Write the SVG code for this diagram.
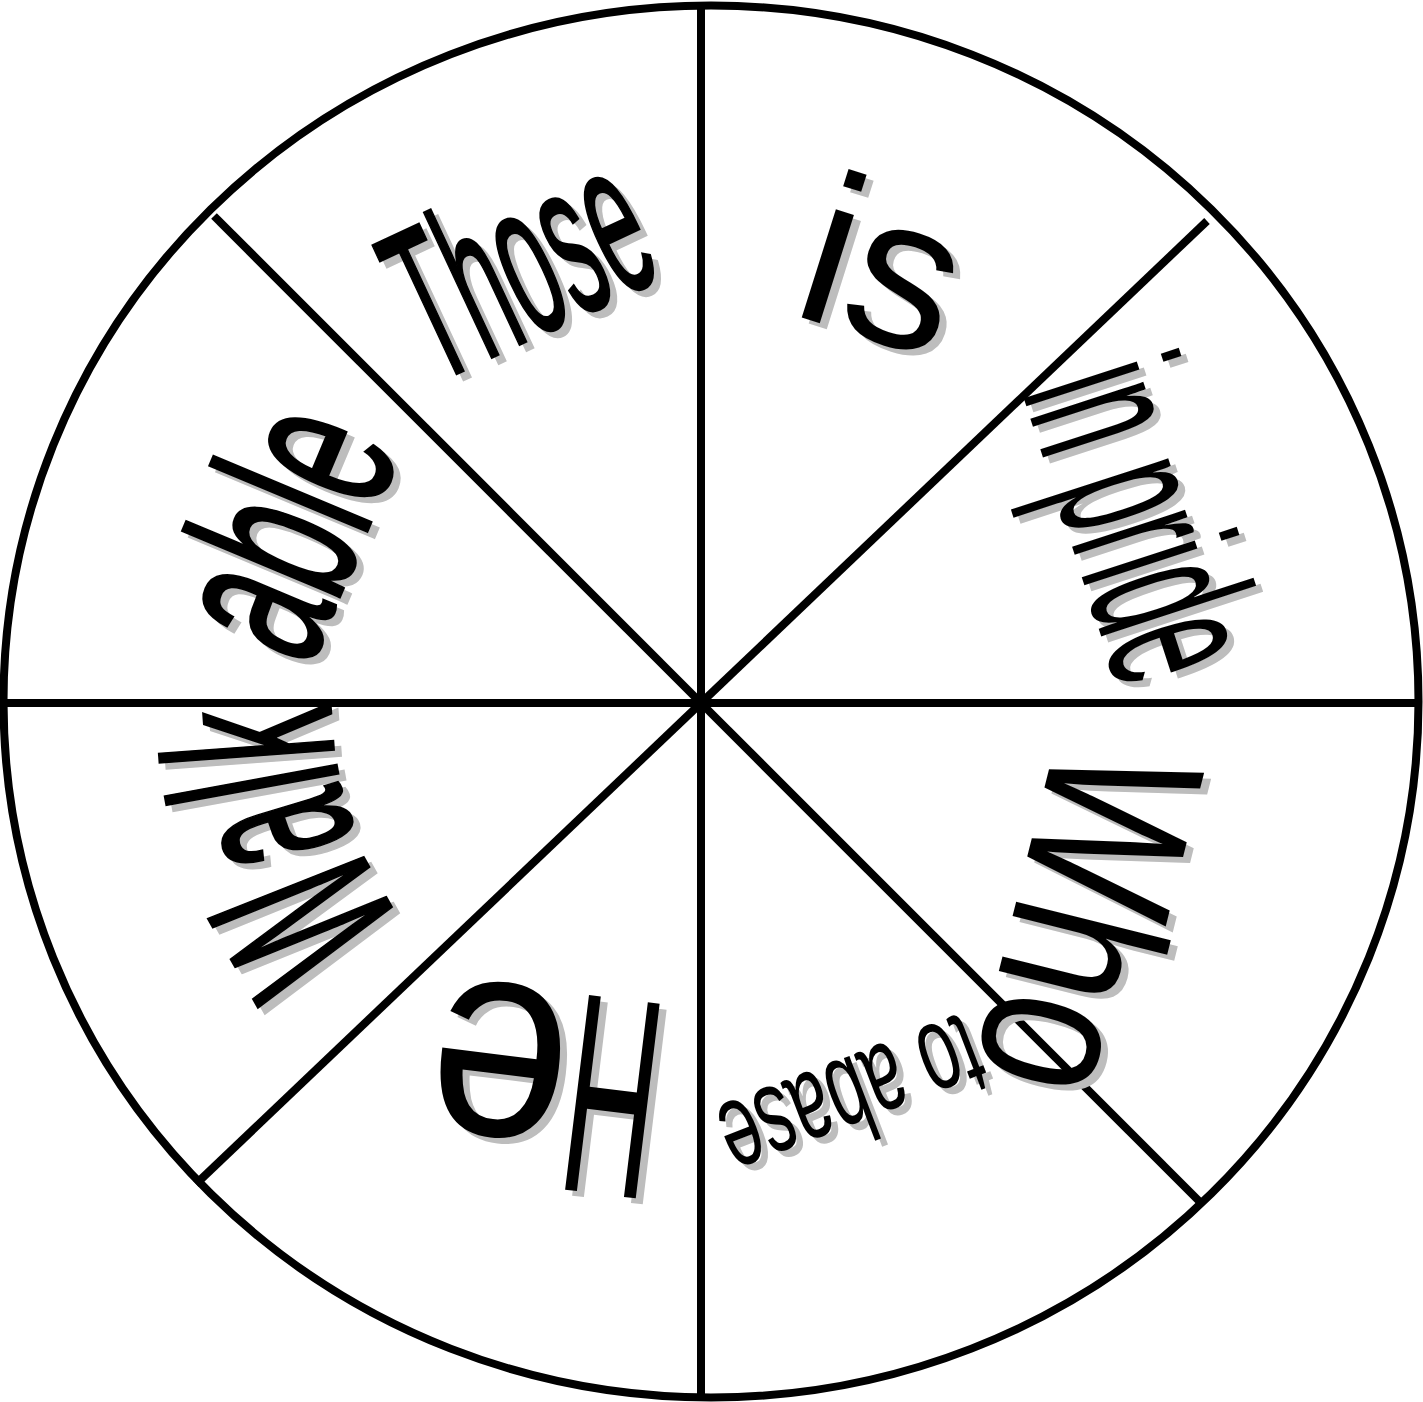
<svg xmlns="http://www.w3.org/2000/svg" xmlns:xlink="http://www.w3.org/1999/xlink" width="1423" height="1402" viewBox="0 0 1423 1402">
<style>
.w{font-family:"Liberation Sans",Arial,sans-serif;}
.b{stroke-width:3;}
.ln{stroke:#000;stroke-width:8;fill:none;stroke-linecap:butt;}
.sh{fill:#bdbdbd;stroke:#bdbdbd;}
.fg{fill:#000;stroke:#000;}
</style>
<defs>
<path id="pWalk" d="M 463.2 986.4 A 370 370 0 0 1 336.6 638.8" fill="none"/>
<text id="t1" class="w b" font-size="220" transform="translate(434.6,383.9) rotate(-25) scale(0.418,1)">Those</text>
<text id="t2" class="w" font-size="215" stroke-width="0" transform="translate(788,313.2) rotate(17.5)">is</text>
<text id="t3" class="w" font-size="225" stroke-width="0" transform="translate(1021.7,391.9) rotate(72) scale(0.43,1)">in pride</text>
<text id="t4" class="w" font-size="220" stroke-width="0" transform="translate(1057.6,735.2) rotate(104) scale(0.77,1)">Who</text>
<text id="t5" class="w" font-size="122" stroke-width="0" transform="translate(964,1012) rotate(159) scale(0.58,1)">to abase</text>
<text id="t6" class="w" font-size="285" stroke-width="0" transform="translate(670,1005) rotate(187)"><tspan textLength="92" lengthAdjust="spacingAndGlyphs">H</tspan><tspan textLength="140" lengthAdjust="spacingAndGlyphs">e</tspan></text>
<text id="t7" class="w b" font-size="240"><textPath xlink:href="#pWalk" startOffset="84" textLength="239" lengthAdjust="spacingAndGlyphs">Walk</textPath></text>
<text id="t8" class="w b" font-size="235" transform="translate(309,670) rotate(292.7) scale(0.54,1)">able</text>
</defs>
<rect x="0" y="0" width="1423" height="1402" fill="#fff"/>
<g id="wheel">
<ellipse class="ln" cx="711" cy="701.5" rx="707.5" ry="696"/>
</g>
<g id="connectors">
<line class="ln" x1="3" y1="703" x2="1419" y2="703"/>
<line class="ln" x1="701" y1="5" x2="701" y2="1397"/>
<line class="ln" x1="701" y1="703" x2="214" y2="216"/>
<line class="ln" x1="701" y1="703" x2="1207" y2="221"/>
<line class="ln" x1="701" y1="703" x2="196" y2="1184"/>
<line class="ln" x1="701" y1="703" x2="1201" y2="1203"/>
</g>
<g id="sector-those"><use xlink:href="#t1" class="sh" transform="translate(7,6)"/><use xlink:href="#t1" class="fg"/></g>
<g id="sector-is"><use xlink:href="#t2" class="sh" transform="translate(7,6)"/><use xlink:href="#t2" class="fg"/></g>
<g id="sector-in-pride"><use xlink:href="#t3" class="sh" transform="translate(7,6)"/><use xlink:href="#t3" class="fg"/></g>
<g id="sector-who"><use xlink:href="#t4" class="sh" transform="translate(7,6)"/><use xlink:href="#t4" class="fg"/></g>
<g id="sector-to-abase"><use xlink:href="#t5" class="sh" transform="translate(7,6)"/><use xlink:href="#t5" class="fg"/></g>
<g id="sector-he"><use xlink:href="#t6" class="sh" transform="translate(7,6)"/><use xlink:href="#t6" class="fg"/></g>
<g id="sector-walk"><use xlink:href="#t7" class="sh" transform="translate(7,6)"/><use xlink:href="#t7" class="fg"/></g>
<g id="sector-able"><use xlink:href="#t8" class="sh" transform="translate(7,6)"/><use xlink:href="#t8" class="fg"/></g>
</svg>
